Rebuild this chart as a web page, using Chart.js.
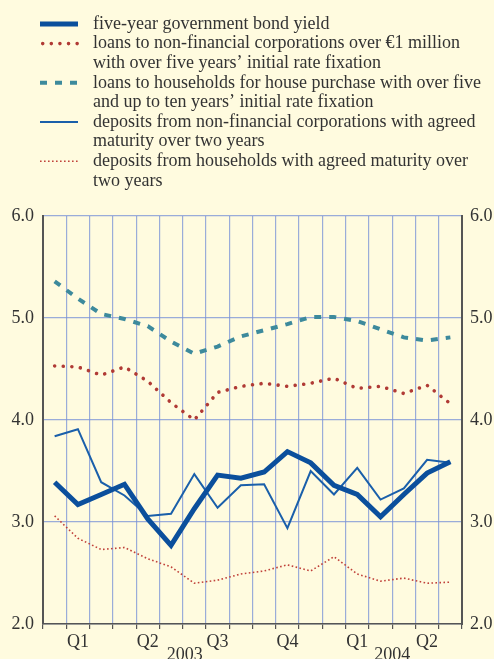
<!DOCTYPE html>
<html>
<head>
<meta charset="utf-8">
<script src="https://cdn.jsdelivr.net/npm/chart.js@4.4.1/dist/chart.umd.min.js"></script>
<style>
html,body{margin:0;padding:0;background:#fffbdf;}
#wrap{width:494px;height:659px;position:relative;}
</style>
</head>
<body>
<div id="wrap"><canvas id="c" width="494" height="659"></canvas></div>
<script>
const months = ['Jan 2003','Feb 2003','Mar 2003','Apr 2003','May 2003','Jun 2003','Jul 2003','Aug 2003','Sep 2003','Oct 2003','Nov 2003','Dec 2003','Jan 2004','Feb 2004','Mar 2004','Apr 2004','May 2004','Jun 2004'];
const quarterLabels = ['', 'Q1', '', '', 'Q2', '', '', 'Q3', '', '', 'Q4', '', '', 'Q1', '', '', 'Q2', ''];
const yearLabels = ['2003', '2004'];
const yTicks = [2.0, 3.0, 4.0, 5.0, 6.0];

const bondYield = [3.39,3.17,3.27,3.37,3.03,2.77,3.13,3.46,3.43,3.49,3.69,3.58,3.36,3.27,3.05,3.27,3.48,3.59];
const loansNFC  = [4.53,4.52,4.44,4.52,4.38,4.17,4.00,4.27,4.33,4.36,4.33,4.36,4.41,4.31,4.33,4.26,4.34,4.16];
const loansHH   = [5.36,5.19,5.04,4.99,4.92,4.77,4.65,4.72,4.82,4.88,4.94,5.01,5.01,4.97,4.89,4.81,4.78,4.81];
const depNFC    = [3.84,3.91,3.39,3.26,3.06,3.08,3.47,3.14,3.36,3.37,2.94,3.50,3.27,3.53,3.22,3.33,3.61,3.58];
const depHH     = [3.06,2.84,2.73,2.75,2.64,2.56,2.40,2.43,2.49,2.52,2.58,2.52,2.66,2.49,2.42,2.45,2.40,2.41];

const legendTexts = [
  ['five-year government bond yield'],
  ['loans to non-financial corporations over €1 million', 'with over five years’ initial rate fixation'],
  ['loans to households for house purchase with over five', 'and up to ten years’ initial rate fixation'],
  ['deposits from non-financial corporations with agreed', 'maturity over two years'],
  ['deposits from households with agreed maturity over', 'two years']
];

const BG = '#fffbdf';
const TXT = '#333333';
const FONT = '"Liberation Serif", "Times New Roman", serif';
const GRID = 'rgba(120,145,215,0.75)';
const AXIS = '#555555';

const bgPlugin = {
  id: 'bg',
  beforeDraw(chart) {
    const ctx = chart.ctx;
    ctx.save();
    ctx.fillStyle = BG;
    ctx.fillRect(0, 0, chart.width, chart.height);
    ctx.restore();
  }
};

const legendPlugin = {
  id: 'customLegend',
  afterDraw(chart) {
    const ctx = chart.ctx;
    ctx.save();
    ctx.font = '18px ' + FONT;
    ctx.fillStyle = TXT;
    ctx.textBaseline = 'middle';
    let line = 0;
    const lh = 19.6, y0 = 24;
    chart.data.datasets.forEach((ds, i) => {
      const y = y0 + line * lh;
      ctx.save();
      ctx.strokeStyle = ds.borderColor;
      ctx.lineWidth = ds.borderWidth;
      ctx.lineCap = ds.borderCapStyle || 'butt';
      ctx.setLineDash(ds.borderDash || []);
      ctx.beginPath();
      ctx.moveTo(ds.legendStart || 40, y);
      ctx.lineTo(78, y);
      ctx.stroke();
      ctx.restore();
      legendTexts[i].forEach((t, k) => {
        ctx.fillText(t, 93, y0 + (line + k) * lh);
      });
      line += legendTexts[i].length;
    });
    // year labels
    const xs = chart.scales.x;
    ctx.textAlign = 'center';
    ctx.textBaseline = 'alphabetic';
    const p = (a, b) => (xs.getPixelForValue(a) + xs.getPixelForValue(b)) / 2;
    ctx.fillText(yearLabels[0], p(5, 6) + 2, 660);
    ctx.fillText(yearLabels[1], p(14, 15), 660);
    ctx.restore();
  }
};

new Chart(document.getElementById('c'), {
  type: 'line',
  data: {
    labels: months,
    datasets: [
      { label: 'bond', data: bondYield, borderColor: '#0b4f9c', borderWidth: 5, pointRadius: 0, tension: 0, borderJoinStyle: 'miter', yAxisID: 'y', order: 0 },
      { label: 'loansNFC', data: loansNFC, borderColor: '#b03a35', borderWidth: 3.6, borderDash: [0.01, 8.6], borderCapStyle: 'round', pointRadius: 0, tension: 0, yAxisID: 'y', legendStart: 42.7 },
      { label: 'loansHH', data: loansHH, borderColor: '#3d8a9c', borderWidth: 4, borderDash: [7, 8], pointRadius: 0, tension: 0, yAxisID: 'y' },
      { label: 'depNFC', data: depNFC, borderColor: '#1a5faa', borderWidth: 2, pointRadius: 0, tension: 0, yAxisID: 'y' },
      { label: 'depHH', data: depHH, borderColor: '#c0413a', borderWidth: 1.6, borderDash: [1.6, 2.4], pointRadius: 0, tension: 0, yAxisID: 'y' }
    ]
  },
  options: {
    responsive: false,
    animation: false,
    devicePixelRatio: 1,
    layout: { padding: { top: 216, left: 0, right: 0, bottom: 0 } },
    plugins: { legend: { display: false }, tooltip: { enabled: false } },
    scales: {
      x: {
        type: 'category',
        offset: true,
        grid: { offset: true, color: GRID, lineWidth: 1.2, drawTicks: true, tickLength: 5, tickColor: AXIS },
        border: { display: true, color: AXIS, width: 1.5 },
        ticks: {
          autoSkip: false, maxRotation: 0, padding: 2,
          color: TXT, font: { family: FONT, size: 18 },
          callback: (v, i) => quarterLabels[i]
        },
        afterFit(s) { s.height = 35; }
      },
      y: {
        position: 'left', min: 2, max: 6,
        afterBuildTicks(s) { s.ticks = yTicks.map(v => ({ value: v })); },
        grid: { color: GRID, lineWidth: 1.2, drawTicks: false },
        border: { display: true, color: AXIS, width: 2 },
        ticks: { padding: 9, color: TXT, font: { family: FONT, size: 18 }, callback: v => Number(v).toFixed(1) },
        afterFit(s) { s.width = 43; }
      },
      y2: {
        position: 'right', min: 2, max: 6,
        afterBuildTicks(s) { s.ticks = yTicks.map(v => ({ value: v })); },
        grid: { display: false, drawTicks: false },
        border: { display: true, color: AXIS, width: 2 },
        ticks: { padding: 8, color: TXT, font: { family: FONT, size: 18 }, callback: v => Number(v).toFixed(1) },
        afterFit(s) { s.width = 32; }
      }
    }
  },
  plugins: [bgPlugin, legendPlugin]
});
</script>
</body>
</html>
